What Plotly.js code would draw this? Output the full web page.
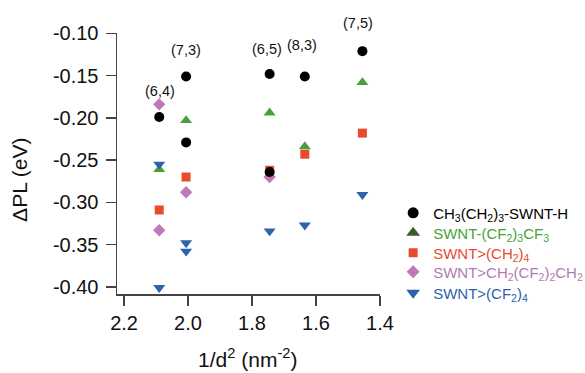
<!DOCTYPE html>
<html>
<head>
<meta charset="utf-8">
<script src="https://cdn.plot.ly/plotly-3.0.1.min.js"></script>
<style>html,body{margin:0;padding:0;background:#fff;}#chart{width:585px;height:373px;}</style>
</head>
<body>
<div id="chart"></div>
<script>
// 1/d^2 positions of the chiralities
var xCircle = [2.09, 2.006, 2.006, 1.745, 1.745, 1.635, 1.455];
var yCircle = [-0.199, -0.151, -0.229, -0.148, -0.264, -0.151, -0.121];

var xGreen = [2.09, 2.006, 1.745, 1.635, 1.455];
var yGreen = [-0.261, -0.203, -0.194, -0.234, -0.158];

var xRed = [2.09, 2.006, 1.745, 1.635, 1.455];
var yRed = [-0.309, -0.270, -0.262, -0.243, -0.218];

var xPurple = [2.09, 2.09, 2.006, 1.745];
var yPurple = [-0.184, -0.333, -0.288, -0.270];

var xBlue = [2.09, 2.09, 2.006, 2.006, 1.745, 1.635, 1.455];
var yBlue = [-0.255, -0.401, -0.348, -0.358, -0.334, -0.327, -0.291];

var seriesNames = [
  'CH<sub>3</sub>(CH<sub>2</sub>)<sub>3</sub>-SWNT-H',
  'SWNT-(CF<sub>2</sub>)<sub>3</sub>CF<sub>3</sub>',
  'SWNT>(CH<sub>2</sub>)<sub>4</sub>',
  'SWNT>CH<sub>2</sub>(CF<sub>2</sub>)<sub>2</sub>CH<sub>2</sub>',
  'SWNT>(CF<sub>2</sub>)<sub>4</sub>'
];

var labelText = ['(6,4)', '(7,3)', '(6,5)', '(8,3)', '(7,5)'];
var labelX = [2.088, 2.006, 1.753, 1.644, 1.469];
var labelY = [-0.168, -0.120, -0.119, -0.114, -0.088];

var xTickVals = [2.2, 2.0, 1.8, 1.6, 1.4];
var xTickText = ['2.2', '2.0', '1.8', '1.6', '1.4'];
var yTickVals = [-0.10, -0.15, -0.20, -0.25, -0.30, -0.35, -0.40];
var yTickText = ['-0.10', '-0.15', '-0.20', '-0.25', '-0.30', '-0.35', '-0.40'];

var xRange = [2.222, 1.4];
var yRange = [-0.4085, -0.0995];

var cBlack = '#000000', cGreen = '#45a23a', cGreenLeg = '#3a5e2c', cRed = '#e84a2c',
    cPurple = '#c078b8', cBlue = '#2e62ad';
var textColors = ['#000000', '#45a23a', '#e84a2c', '#b27ab5', '#2f5fa8'];

// legend row positions (paper fractions)
var legendRowY = [0.310, 0.234, 0.157, 0.084, 0.004];
var legendX = 1.05;

function pts(x, y, sym, size, color) {
  return {x: x, y: y, type: 'scatter', mode: 'markers', showlegend: false, hoverinfo: 'skip',
    marker: {symbol: sym, size: size, color: color, line: {width: 0}}};
}
function legId(i) { return i === 0 ? 'legend' : 'legend' + (i + 1); }
function leg(i, sym, size, color) {
  return {x: [null], y: [null], type: 'scatter', mode: 'markers', showlegend: true,
    legend: legId(i),
    name: '<span style="color:' + textColors[i] + '">' + seriesNames[i] + '</span>',
    marker: {symbol: sym, size: size, color: color, line: {width: 0}}};
}

var data = [
  pts(xPurple, yPurple, 'diamond', 9.5, cPurple),
  pts(xGreen, yGreen, 'triangle-up', 10.5, cGreen),
  pts(xRed, yRed, 'square', 9, cRed),
  pts(xBlue, yBlue, 'triangle-down', 10.5, cBlue),
  pts(xCircle, yCircle, 'circle', 10, cBlack),
  leg(0, 'circle', 11, cBlack),
  leg(1, 'triangle-up', 12, cGreenLeg),
  leg(2, 'square', 9, cRed),
  leg(3, 'diamond', 10, cPurple),
  leg(4, 'triangle-down', 12, cBlue)
];

var annotations = [];
for (var i = 0; i < labelText.length; i++) {
  // x in data units, y given in paper fraction of the y range (so labels above the range still show)
  annotations.push({x: labelX[i], xref: 'x', yref: 'paper',
    y: (labelY[i] - yRange[0]) / (yRange[1] - yRange[0]),
    text: labelText[i], showarrow: false, font: {size: 14.5, color: '#111'},
    xanchor: 'center', yanchor: 'middle'});
}
annotations.push({x: 0.498, y: -0.245, xref: 'paper', yref: 'paper',
  text: '1/d<sup>2</sup> (nm<sup>-2</sup>)', showarrow: false,
  font: {size: 21, color: '#111'}, xanchor: 'center', yanchor: 'middle'});
annotations.push({x: -0.369, y: 0.437, xref: 'paper', yref: 'paper', textangle: -90,
  text: '\u0394PL (eV)', showarrow: false,
  font: {size: 21, color: '#111'}, xanchor: 'center', yanchor: 'middle'});

var axisCommon = {
  showline: true, linecolor: '#444', linewidth: 1.5, ticks: 'outside', ticklen: 10,
  tickwidth: 1.5, tickcolor: '#444', showgrid: false, zeroline: false, mirror: false,
  tickfont: {size: 20, color: '#111'}, tickmode: 'array', automargin: false
};

var layout = {
  width: 585, height: 373,
  margin: {l: 117, r: 205, t: 33, b: 79, pad: 0, autoexpand: false},
  paper_bgcolor: '#fff', plot_bgcolor: '#fff',
  font: {family: 'Liberation Sans, Arial, Helvetica, sans-serif', color: '#111'},
  xaxis: Object.assign({}, axisCommon, {range: xRange, tickvals: xTickVals, ticktext: xTickText}),
  yaxis: Object.assign({}, axisCommon, {range: yRange, tickvals: yTickVals, ticktext: yTickText, ticklabelstandoff: 3}),
  showlegend: true,
  annotations: annotations
};
for (var k = 0; k < 5; k++) {
  layout[legId(k)] = {x: legendX, y: legendRowY[k], xanchor: 'left', yanchor: 'middle',
    bgcolor: 'rgba(0,0,0,0)', font: {size: 15, color: '#111'}, itemwidth: 30, borderwidth: 0};
}

Plotly.newPlot('chart', data, layout, {displayModeBar: false, staticPlot: true});
</script>
</body>
</html>
